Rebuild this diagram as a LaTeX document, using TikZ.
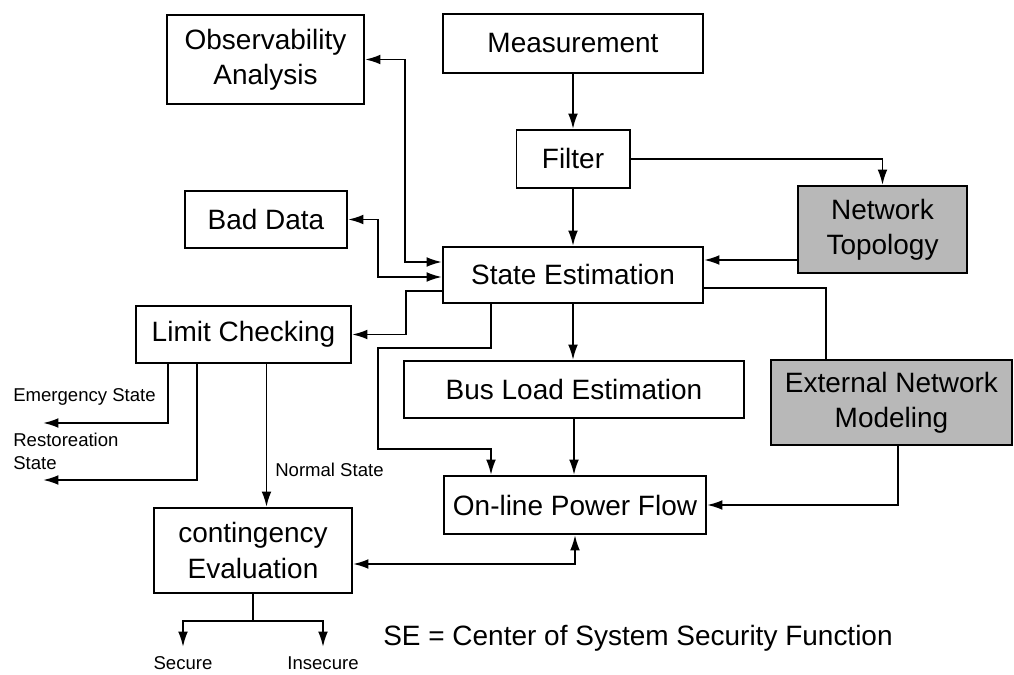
\documentclass[tikz,border=0pt]{standalone}
\usepackage{fontspec}
\setmainfont{Liberation Sans}
\usetikzlibrary{arrows.meta}

\begin{document}
\begin{tikzpicture}[x=0.025cm,y=-0.025cm,
		box/.style={draw,line width=1.4pt,align=center,inner sep=2pt,font=\fontsize{19.9}{24.9}\selectfont},
		shaded/.style={box,fill=black!28},
		note/.style={inner sep=0pt,align=left,font=\fontsize{13.2}{16.2}\selectfont},
		wire/.style={line width=1.4pt},
		link/.style={wire,-{Latex[length=11pt,width=7pt]}},
		both/.style={wire,{Latex[length=11pt,width=7pt]}-{Latex[length=11pt,width=7pt]}}]

		\useasboundingbox (0,0) rectangle (1014,675);

		\node[box,minimum width=4.925cm,minimum height=2.225cm] (obs) at (265.5,59.5) {Observability\\Analysis};
		\node[box,minimum width=6.5cm,minimum height=1.475cm] (meas) at (573,43.5) {Measurement};
		\node[box,minimum width=2.825cm,minimum height=1.45cm] (filter) at (573,159) {Filter};
		\node[shaded,minimum width=4.225cm,minimum height=2.175cm] (topo) at (882.5,229.5) {Network\\Topology};
		\node[box,minimum width=4.05cm,minimum height=1.425cm] (bad) at (266,219.5) {Bad Data};
		\node[box,minimum width=6.5cm,minimum height=1.4cm] (se) at (573,275) {State Estimation};
		\node[box,minimum width=5.375cm,minimum height=1.425cm] (limit) at (243.5,334.5) {Limit Checking};
		\node[box,minimum width=8.5cm,minimum height=1.425cm] (bus) at (574,389.5) {Bus Load Estimation};
		\node[shaded,minimum width=6.025cm,minimum height=2.125cm] (ext) at (891.5,402.5) {External Network\\Modeling};
		\node[box,minimum width=6.55cm,minimum height=1.45cm] (opf) at (575,505) {On-line Power Flow};
		\node[box,minimum width=4.95cm,minimum height=2.125cm] (cont) at (253,550.5) {contingency\\Evaluation};

		\node[note,anchor=west] (emerg) at (13,397) {Emergency State};
		\node[note,anchor=west] (resto) at (13,451.5) {Restoreation\\State};
		\node[note,anchor=west] (normal) at (275,470) {Normal State};
		\node[note,anchor=center] (secure) at (183,663) {Secure};
		\node[note,anchor=center] (insecure) at (323,663) {Insecure};
		\node[inner sep=0pt,anchor=west,font=\fontsize{19.9}{24.9}\selectfont] (caption) at (383,638) {SE = Center of System Security Function};

		\coordinate (emergEnd) at (43,423);
		\coordinate (restoEnd) at (43,480);
		\coordinate (split) at (253,621);
		\coordinate (secEnd) at (183,647);
		\coordinate (insecEnd) at (323,647);

		\draw[link] (meas) -- (filter);
		\draw[link] (filter) -- (se);
		\draw[link] (filter.east) -| (topo.north);
		\draw[link] (topo.west |- 0,260) -- (se.east |- 0,260);
		\draw[wire] (se.east |- 0,288) -| (826,0 |- ext.north);
		\draw[link] (898,0 |- ext.south) |- (opf.east);

		\draw[both] (obs.east) -| (405,262) -- (se.west |- 0,262);
		\draw[both] (bad.east) -| (378,277) -- (se.west |- 0,277);
		\draw[link] (se.west |- 0,291) -| (406,334.5) -- (limit.east);
		\draw[link] (491,0 |- se.south) |- (378,348) |- (491,449) -- (491,0 |- opf.north);
		\draw[link] (se.south) -- (se.south |- bus.north);
		\draw[link] (bus.south) -- (bus.south |- opf.north);
		\draw[both] (cont.east |- 0,564) -| (opf.south);

		\draw[link] (168,0 |- limit.south) |- (emergEnd);
		\draw[link] (197,0 |- limit.south) |- (restoEnd);
		\draw[link] (266.5,0 |- limit.south) -- (266.5,0 |- cont.north);

		\draw[wire] (cont.south) -- (split);
		\draw[link] (split) -| (secEnd);
		\draw[link] (split) -| (insecEnd);

	\end{tikzpicture}
\end{document}
